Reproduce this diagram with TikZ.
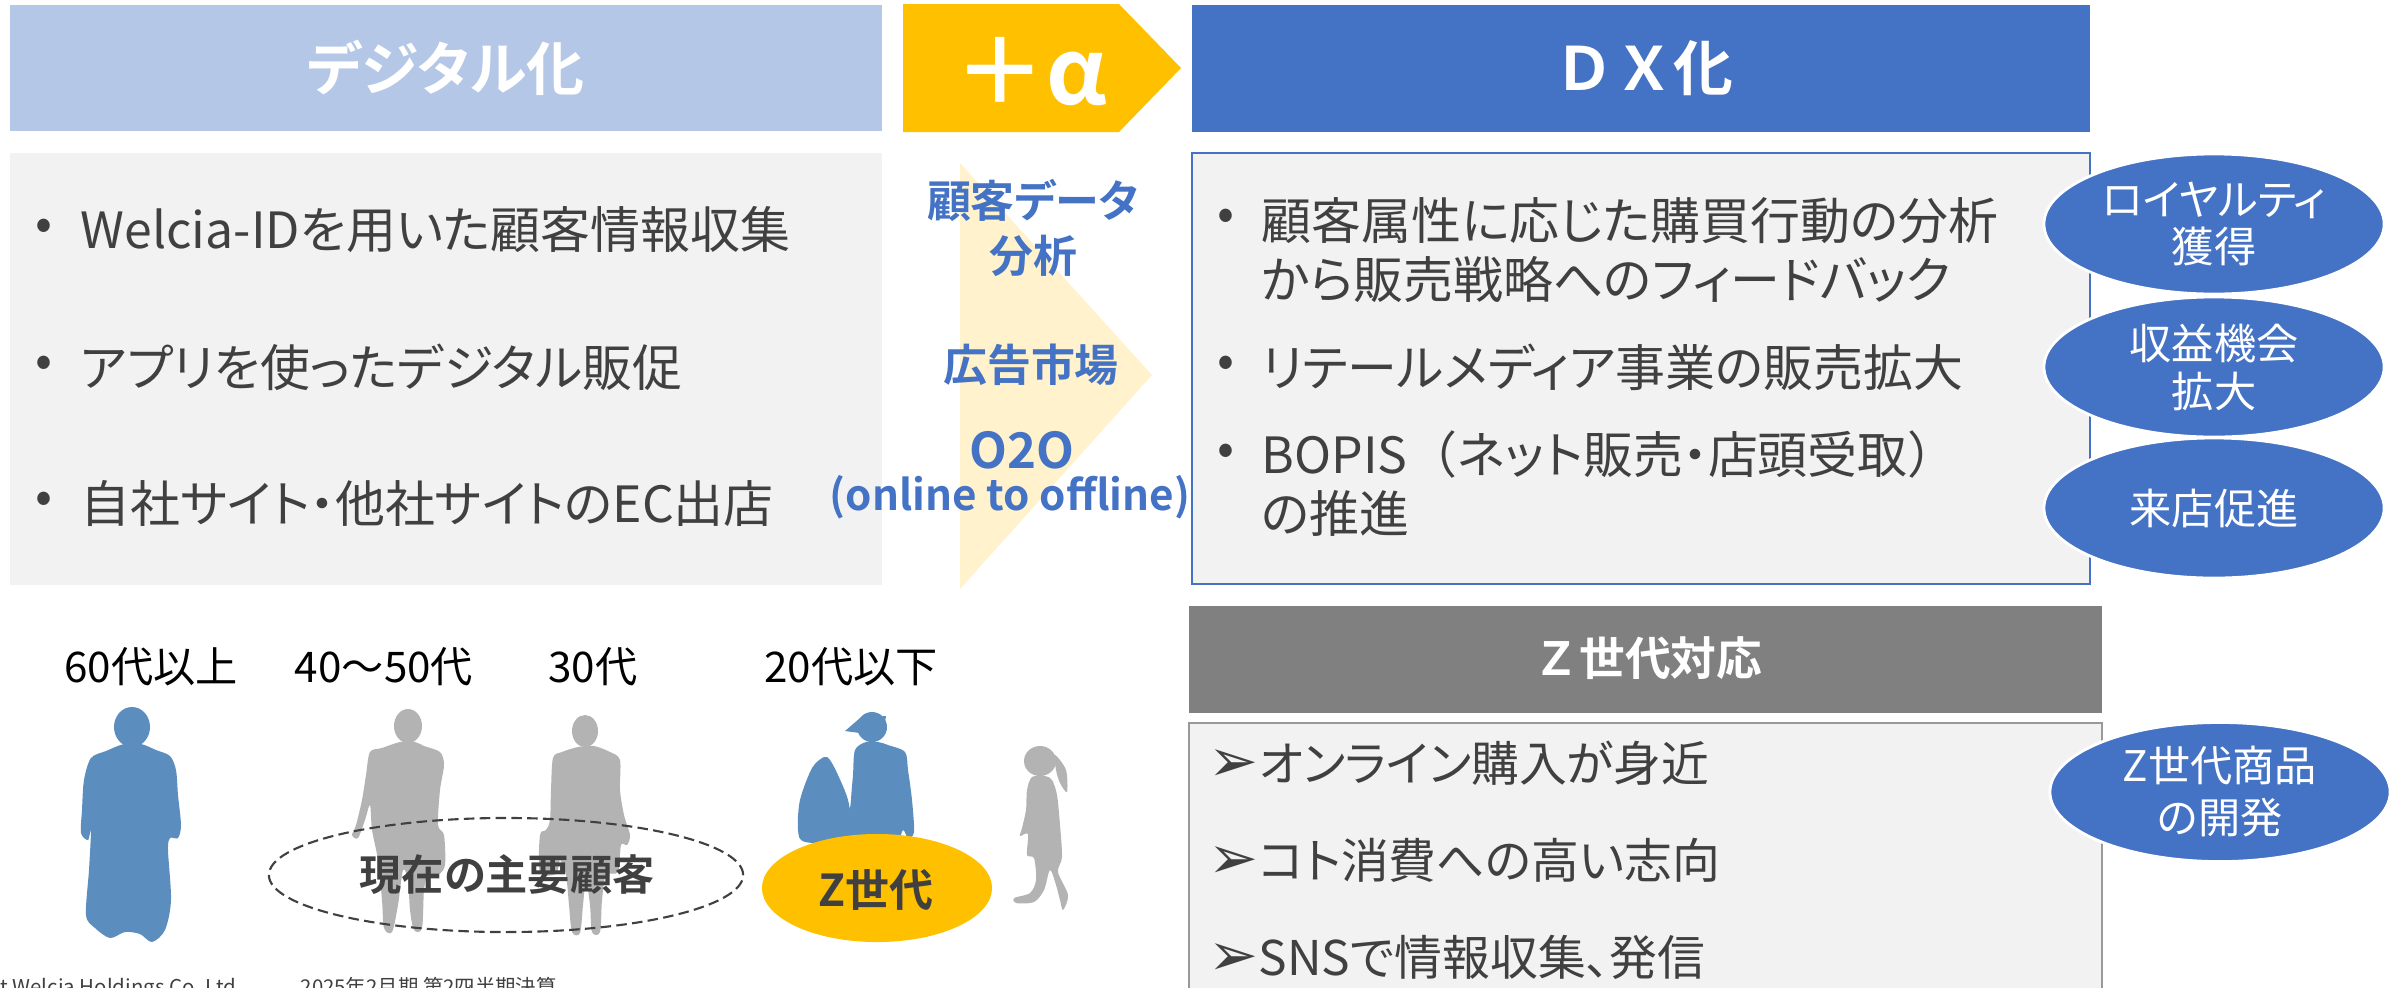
\documentclass[tikz,border=0pt]{standalone}
\usepackage{fontspec}
\setmainfont{Noto Sans CJK JP}[BoldFont={* Bold}, RawFeature=+palt]
\newfontfamily\wideJP{Noto Sans CJK JP}[BoldFont={* Bold}]
\newfontfamily\symfont{DejaVu Sans}
\usetikzlibrary{shapes.geometric}

\definecolor{hdrblue}{HTML}{B4C7E7}
\definecolor{dxblue}{HTML}{4472C4}
\definecolor{alphayellow}{HTML}{FFC000}
\definecolor{paleyellow}{HTML}{FFF2CC}
\definecolor{boxgray}{HTML}{F2F2F2}
\definecolor{txtgray}{HTML}{404040}
\definecolor{zgray}{HTML}{808080}
\definecolor{figblue}{HTML}{5B8EBF}
\definecolor{figgray}{HTML}{B3B3B3}

\begin{document}
\begin{tikzpicture}[x=0.01cm, y=-0.01cm,
  title/.style={text=white, font=\bfseries\fontsize{17}{20}\selectfont},
  item/.style={anchor=west, align=left, inner sep=0pt, text=txtgray, font=\fontsize{14.2}{16.8}\selectfont},
  dot/.style={text=txtgray, font=\fontsize{14.2}{16.8}\selectfont},
  mid/.style={align=center, text=dxblue, font=\bfseries\fontsize{12.5}{15.6}\selectfont},
  bubble/.style={ellipse, fill=dxblue, draw=white, line width=0.8pt, minimum width=3.4cm,
    minimum height=1.4cm, inner sep=0pt, align=center, text=white, font=\fontsize{12}{13.6}\selectfont},
  age/.style={text=black, font=\fontsize{12}{14}\selectfont},
  zitem/.style={anchor=west, inner sep=0pt, text=txtgray, font=\fontsize{13.6}{16}\selectfont},
  foot/.style={inner sep=0pt, text=txtgray, font=\fontsize{5.8}{7}\selectfont},
]
\useasboundingbox (0,0) rectangle (2392,987);
\clip (0,0) rectangle (2392,987);

% headers
\fill[hdrblue] (10,5) rectangle (882,131);
\node[title, font=\bfseries\fontsize{16.5}{20}\selectfont] (digiHead) at (446,68) {デジタル化};
\fill[alphayellow] (903,4) -- (1119,4) -- (1181,68) -- (1119,132) -- (903,132) -- cycle;
\node[title, font=\bfseries\fontsize{26}{30}\selectfont] (plusHead) at (1031,72) {＋α};
\fill[dxblue] (1192,5) rectangle (2090,132);
\node[title, font=\wideJP\bfseries\fontsize{17}{20}\selectfont] (dxHead) at (1644,68) {ＤＸ化};

% digital side
\fill[boxgray] (10,153) rectangle (882,585);
\node[dot] (dotA) at (44,230) {•};
\node[item] (itemA) at (80,230) {Welcia-IDを用いた顧客情報収集};
\node[dot] (dotB) at (44,367) {•};
\node[item] (itemB) at (80,367) {アプリを使ったデジタル販促};
\node[dot] (dotC) at (44,503) {•};
\node[item] (itemC) at (80,503) {自社サイト・他社サイトのEC出店};

% plus alpha arrow
\fill[paleyellow] (960,163) -- (1152,375) -- (960,589) -- cycle;
\node[mid] (custData) at (1033,228) {顧客データ\\分析};
\node[mid] (adMarket) at (1031,365) {広告市場};
\node[mid, font=\bfseries\fontsize{14}{16}\selectfont] (oto) at (1022,450) {O2O};
\node[mid, font=\bfseries\fontsize{12}{14}\selectfont] (otoNote) at (1010,497) {(online to offline)};

% DX side
\filldraw[fill=boxgray, draw=dxblue, line width=0.6pt] (1192,153) rectangle (2090,584);
\node[dot] (dotD) at (1226,220) {•};
\node[item] (itemD) at (1261,250) {顧客属性に応じた購買行動の分析\\から販売戦略へのフィードバック};
\node[dot] (dotE) at (1226,367) {•};
\node[item] (itemE) at (1261,367) {リテールメディア事業の販売拡大};
\node[dot] (dotF) at (1226,455) {•};
\node[item] (itemF) at (1261,484) {BOPIS{\wideJP（}ネット販売・店頭受取{\wideJP ）}\\の推進};
\node[bubble] (loyal) at (2214,224) {ロイヤルティ\\獲得};
\node[bubble] (profit) at (2214,367) {収益機会\\拡大};
\node[bubble] (visit) at (2214,508) {来店促進};

% Z generation
\fill[zgray] (1189,606) rectangle (2102,713);
\node[title, font=\wideJP\bfseries\fontsize{13}{16}\selectfont] (zHead) at (1648,658) {Ｚ世代対応};
\filldraw[fill=boxgray, draw=zgray!80, line width=0.6pt] (1189,723) rectangle (2102,1010);
\node[zitem] (zA) at (1208,763) {{\symfont\fontsize{17}{17}\selectfont ➢}オンライン購入が身近};
\node[zitem] (zB) at (1208,860) {{\symfont\fontsize{17}{17}\selectfont ➢}コト消費への高い志向};
\node[zitem] (zC) at (1208,957) {{\symfont\fontsize{17}{17}\selectfont ➢}SNSで情報収集、発信};
\node[bubble, minimum height=1.39cm, font=\fontsize{12}{14.8}\selectfont] (zGoods) at (2220,792) {Z世代商品\\の開発};

% age groups
\node[age] (age60) at (151,667) {60代以上};
\node[age] (age40) at (384,667) {40〜50代};
\node[age] (age30) at (593,667) {30代};
\node[age] (age20) at (851,667) {20代以下};

% people
\fill[figblue] (132,727) ellipse [x radius=0.18cm, y radius=0.2cm];
\fill[figblue] plot[smooth cycle] coordinates {(124,744) (106,751) (91,758) (84,780) (82,810)
  (81,833) (88,840) (91,830) (89,870) (86,915) (95,928) (110,938) (125,932) (140,934) (152,942)
  (165,930) (171,900) (168,850) (170,838) (178,838) (181,825) (178,795) (176,770) (170,756)
  (156,750) (141,744)};

\fill[figgray] (408,726) ellipse [x radius=0.14cm, y radius=0.17cm];
\fill[figgray] plot[smooth cycle] coordinates {(400,742) (382,748) (370,752) (366,775) (362,800)
  (356,825) (352,835) (358,838) (365,820) (370,805) (372,830) (378,860) (382,900) (384,928)
  (392,932) (398,905) (403,870) (408,880) (410,910) (414,930) (422,928) (424,890) (428,875)
  (438,875) (445,865) (444,835) (438,825) (440,790) (444,765) (440,752) (424,746) (415,742)};

\fill[figgray] (585,731) ellipse [x radius=0.13cm, y radius=0.16cm];
\fill[figgray] plot[smooth cycle] coordinates {(578,747) (562,752) (553,758) (551,790) (550,820)
  (546,830) (540,835) (540,872) (556,874) (560,860) (566,875) (569,905) (572,932) (580,933)
  (583,905) (586,880) (590,905) (592,932) (600,932) (602,900) (606,875) (618,872) (621,845)
  (627,845) (630,835) (624,815) (620,790) (620,760) (610,752) (594,746)};

\fill[figblue] (872,727) ellipse [x radius=0.15cm, y radius=0.15cm];
\fill[figblue] (845,731) -- (860,718) -- (886,716) -- (884,728) -- (860,733) -- cycle;
\fill[figblue] plot[smooth cycle] coordinates {(866,742) (855,750) (853,775) (851,800) (850,840)
  (895,840) (903,830) (908,838) (914,832) (912,800) (908,770) (905,752) (888,745) (878,742)};
\fill[figblue] plot[smooth cycle] coordinates {(812,768) (800,800) (798,830) (805,842) (845,842)
  (852,830) (848,800) (838,775) (830,760) (824,757)};

\fill[figgray] (1040,761) ellipse [x radius=0.16cm, y radius=0.15cm];
\fill[figgray] plot[smooth cycle] coordinates {(1055,755) (1066,770) (1067,792) (1060,783) (1056,770)};
\fill[figgray] plot[smooth cycle] coordinates {(1032,777) (1027,790) (1026,810) (1022,828)
  (1020,836) (1028,834) (1027,855) (1034,858) (1036,880) (1030,893) (1014,898) (1016,903)
  (1034,902) (1044,890) (1050,870) (1056,885) (1060,900) (1063,910) (1068,895) (1058,872)
  (1062,857) (1060,825) (1057,795) (1052,780) (1045,776)};

% customer groups
\draw[dashed, txtgray, line width=0.6pt, dash pattern=on 3pt off 1.5pt] (506,875) ellipse [x radius=2.37cm, y radius=0.57cm];
\node[text=txtgray, font=\bfseries\fontsize{12}{14}\selectfont] (mainCust) at (507,875) {現在の主要顧客};
\fill[alphayellow] (877,888) ellipse [x radius=1.15cm, y radius=0.54cm];
\node[text=txtgray, font=\bfseries\fontsize{12.5}{14}\selectfont] (zGen) at (876,890) {Z世代};

% footer
\node[foot, anchor=base east] (copy) at (237,994) {Copyright Welcia Holdings Co.,Ltd};
\node[foot, anchor=base west] (term) at (300,994) {2025年2月期 第2四半期決算};
\end{tikzpicture}
\end{document}
